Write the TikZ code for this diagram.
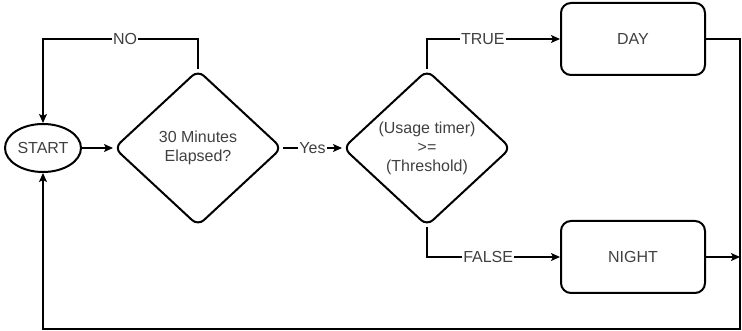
\documentclass[tikz,border=0pt]{standalone}
\usepackage{fontspec}
\setmainfont{Liberation Sans}
\usetikzlibrary{shapes.geometric,arrows.meta}
\definecolor{txt}{HTML}{404040}
\begin{document}
\begin{tikzpicture}[x=1pt,y=-1pt,
 font=\fontsize{16}{19}\selectfont, text=txt,
 shapeline/.style={draw=black,line width=2pt},
 startnode/.style={shapeline,ellipse,minimum width=76pt,minimum height=48pt,inner sep=0pt},
 decision/.style={shapeline,diamond,minimum width=168pt,minimum height=156pt,inner sep=0pt,rounded corners=8pt,align=center},
 proc/.style={shapeline,rectangle,rounded corners=10pt,minimum width=144pt,minimum height=72pt},
 conn/.style={draw=black,line width=1.2pt,-{Stealth[length=9pt,width=8pt,inset=2pt]}},
 lbl/.style={fill=white,inner sep=1pt}]
\useasboundingbox (0,0) rectangle (742,331);
\node[startnode] (start) at (43,148) {START};
\node[decision] (d1) at (198,148) {30 Minutes\\Elapsed?};
\node[decision] (d2) at (427,148) {(Usage timer)\\>=\\(Threshold)};
\node[proc] (day) at (633,39) {DAY};
\node[proc] (night) at (633,257) {NIGHT};
\coordinate (ntop) at (43,39);
\coordinate (rc) at (740,329);
\draw[conn] (start) -- (d1);
\draw[conn] (d1.north) |- node[lbl,pos=0.735]{NO} (ntop) -- (start.north);
\draw[conn] (d1.east) -- node[lbl]{Yes} (d2.west);
\draw[conn] (d2.north) |- node[lbl,pos=0.71]{TRUE} (day.west);
\draw[conn] (d2.south) |- node[lbl,pos=0.73]{FALSE} (night.west);
\draw[conn] (day.east) -| (rc) -| (start.south);
\draw[conn] (night.east) -- (night.east -| rc);
\end{tikzpicture}
\end{document}
